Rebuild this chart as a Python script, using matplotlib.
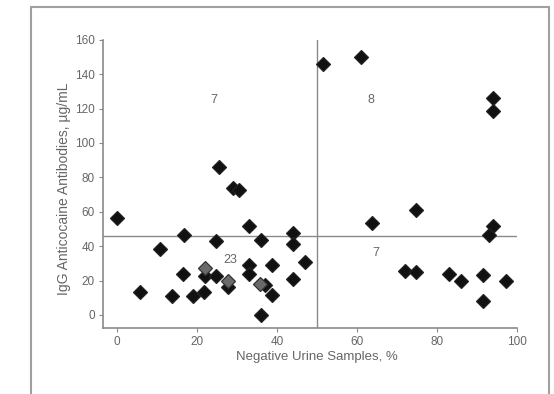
import matplotlib.pyplot as plt
import matplotlib.patches as mpatches
import numpy as np

plt.rcParams['font.family'] = ['Liberation Sans Narrow', 'Liberation Sans', 'DejaVu Sans']

# percent of negative urine samples vs IgG anticocaine antibody level
neg_urine = [0, 5.8, 10.8, 13.8, 16.8, 16.5, 19, 21.8, 22, 22, 24.8, 24.8, 25.5,
             27.7, 27.7, 29.1, 30.6, 33.1, 33.1, 33.1, 36, 35.8, 36.9, 36.1, 38.8,
             38.8, 44.1, 44.1, 44.1, 47,
             51.5, 60.9, 94.1, 94.1, 63.8, 74.8, 94.1, 93.1,
             71.9, 74.8, 83.1, 86, 91.6, 91.6, 97.3]
igg = [56.5, 13.6, 38.5, 10.8, 46.3, 24, 10.8, 13.6, 27, 22.7, 43, 22.7, 86,
       19.8, 16, 74, 72.7, 51.7, 29, 23.8, 43.6, 18, 17.4, 0, 29,
       11.6, 47.5, 41, 20.6, 31,
       145.7, 150.2, 126.3, 118.8, 53.3, 60.9, 51.7, 46.3,
       25.8, 24.8, 23.8, 19.8, 23.1, 8.3, 19.8]
# points drawn fainter in the original (overlapping markers)
faint = [8, 13, 21]

cut_x = 50
cut_y = 46
quad_labels = ['7', '8', '23', '7']
quad_x = [24.2, 63.4, 28.4, 64.7]
quad_y = [125, 125, 32, 36]

x_ticks = [0, 20, 40, 60, 80, 100]
y_ticks = [0, 20, 40, 60, 80, 100, 120, 140, 160]

gray = '#8a8a8a'
text_gray = '#666666'

fig = plt.figure(figsize=(5.54, 3.94), dpi=100)
ax = fig.add_axes([0.186, 0.168, 0.747, 0.731])

# outer frame around the figure panel
frame = mpatches.Rectangle((0.056, -0.1), 0.935, 1.082, transform=fig.transFigure,
                           fill=False, edgecolor='#a0a0a0', lw=1.5, clip_on=False)
fig.patches.append(frame)

ax.axvline(cut_x, color=gray, lw=1.0, zorder=1)
ax.axhline(cut_y, color=gray, lw=1.0, zorder=1)

dark = [i for i in range(len(neg_urine)) if i not in faint]
ax.plot(np.array(neg_urine)[dark], np.array(igg)[dark], linestyle='none',
        marker='D', ms=7.3, mfc='#111111', mec='#222222', mew=0.9, zorder=3)
ax.plot(np.array(neg_urine)[faint], np.array(igg)[faint], linestyle='none',
        marker='D', ms=7.3, mfc='#6a6a6a', mec='#333333', mew=0.9, zorder=3)

for lab, qx, qy in zip(quad_labels, quad_x, quad_y):
    ax.text(qx, qy, lab, ha='center', va='center', fontsize=9, color=text_gray)

ax.set_xlim(-3.5, 100)
ax.set_ylim(-7.5, 160)
ax.set_xticks(x_ticks)
ax.set_yticks(y_ticks)

for side in ['top', 'right']:
    ax.spines[side].set_visible(False)
for side in ['left', 'bottom']:
    ax.spines[side].set_color(gray)
    ax.spines[side].set_linewidth(1.2)

ax.tick_params(direction='out', length=3, width=0.8, color=gray,
               labelcolor=text_gray, labelsize=8.5, pad=3)

ax.set_xlabel('Negative Urine Samples, %', fontsize=9.5, color=text_gray)
ax.set_ylabel('IgG Anticocaine Antibodies, µg/mL', fontsize=10, color=text_gray)
ax.xaxis.set_label_coords(0.517, -0.08)
ax.yaxis.set_label_coords(-0.077, 0.482)

plt.savefig('out.png', dpi=100)
